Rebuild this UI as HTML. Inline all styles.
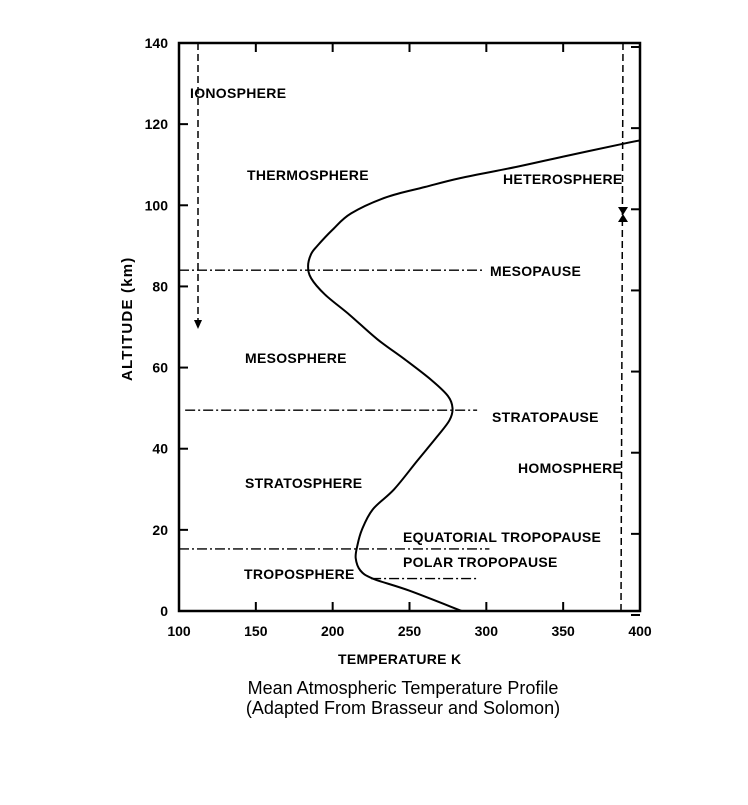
<!DOCTYPE html>
<html><head><meta charset="utf-8"><style>
body{margin:0;background:#fff;width:748px;height:800px;overflow:hidden}
svg text{font-family:"Liberation Sans",sans-serif;fill:#000}
.lbl{font-size:14px;font-weight:bold;letter-spacing:0.3px}
.tick{font-size:14px;font-weight:bold}
</style></head><body>
<svg id="chart" width="748" height="800" viewBox="0 0 748 800" xmlns="http://www.w3.org/2000/svg"></svg>
<script>
const temps=[284,250,226,218,215,216,219,226,240,255,268,276,278,275,264,247,229,211,195,186,184,186,190,200,212,235,260,283,320,350,387,400];
const alts=[0,5,8,10,13,16,20,25,30,37,43,47,50,53,57,62,67,73,78,82,85,88,90,94,98,102,104.5,106.7,109.5,112,115,116];
const xTicks=[100,150,200,250,300,350,400];
const yTicks=[0,20,40,60,80,100,120,140];
const boundaryAlts=[84,49.5,15.3,8];
const boundaryNames=['mesopause-line','stratopause-line','equatorial-tropopause-line','polar-tropopause-line'];
const boundaryFrom=[100,104,100,225];
const boundaryTo=[298,294,302,295];

const L=179,R=640,B=611,T=43;
const x=v=>L+(v-100)*(R-L)/300;
const y=a=>B-(a)*(B-T)/140;
const svg=document.getElementById('chart');
const NS='http://www.w3.org/2000/svg';
function mk(tag,attrs,parent){const e=document.createElementNS(NS,tag);for(const k in attrs)e.setAttribute(k,attrs[k]);(parent||svg).appendChild(e);return e;}

const frame=mk('rect',{x:L,y:T,width:R-L,height:B-T,fill:'none',stroke:'#000','stroke-width':2.5});



xTicks.forEach((v,i)=>{
  const t=mk('line',{x1:x(v),x2:x(v),y1:B,y2:B-9,stroke:'#000','stroke-width':2});
  
  
  const t2=mk('line',{x1:x(v),x2:x(v),y1:T,y2:T+9,stroke:'#000','stroke-width':2});
  
  
  const l=mk('text',{x:x(v),y:B+25,'text-anchor':'middle',class:'tick'});
  l.textContent=v;
  
  
});
yTicks.forEach(v=>{
  const t=mk('line',{x1:L,x2:L+9,y1:y(v),y2:y(v),stroke:'#000','stroke-width':2});
  
  
  const t2=mk('line',{x1:R,x2:R-9,y1:y(v)+4,y2:y(v)+4,stroke:'#000','stroke-width':2});
  
  
  const l=mk('text',{x:L-11,y:y(v)+5,'text-anchor':'end',class:'tick'});
  l.textContent=v;
  
  
});

boundaryAlts.forEach((a,i)=>{
  const ln=mk('line',{x1:x(boundaryFrom[i]),x2:x(boundaryTo[i]),y1:y(a),y2:y(a),stroke:'#000','stroke-width':1.3,'stroke-dasharray':'10 3 2 3'});
  
  
});

const pts=temps.map((t,i)=>[x(t),y(alts[i])]);
let d='M'+pts[0][0]+','+pts[0][1];
for(let i=0;i<pts.length-1;i++){
  const p0=pts[i-1]||pts[i],p1=pts[i],p2=pts[i+1],p3=pts[i+2]||p2;
  d+=` C${p1[0]+(p2[0]-p0[0])/6},${p1[1]+(p2[1]-p0[1])/6} ${p2[0]-(p3[0]-p1[0])/6},${p2[1]-(p3[1]-p1[1])/6} ${p2[0]},${p2[1]}`;
}
const curve=mk('path',{d:d,fill:'none',stroke:'#000','stroke-width':2});



const io=mk('line',{x1:198,x2:198,y1:T,y2:322,stroke:'#000','stroke-width':1.5,'stroke-dasharray':'7 4'});


const ioh=mk('polygon',{points:'194,320 202,320 198,329',fill:'#000'});


const hd=mk('line',{x1:623,x2:621,y1:T,y2:B,stroke:'#000','stroke-width':1.5,'stroke-dasharray':'7 4'});


const a1=mk('polygon',{points:'618,207 628,207 623,215',fill:'#000'});


const a2=mk('polygon',{points:'618,222 628,222 623,214',fill:'#000'});



const labels=[
 ['IONOSPHERE',190,98,'ionosphere-label'],
 ['THERMOSPHERE',247,180,'thermosphere-label'],
 ['HETEROSPHERE',503,184,'heterosphere-label'],
 ['MESOPAUSE',490,276,'mesopause-label'],
 ['MESOSPHERE',245,363,'mesosphere-label'],
 ['STRATOPAUSE',492,422,'stratopause-label'],
 ['HOMOSPHERE',518,473,'homosphere-label'],
 ['STRATOSPHERE',245,488,'stratosphere-label'],
 ['EQUATORIAL TROPOPAUSE',403,542,'equatorial-tropopause-label'],
 ['POLAR TROPOPAUSE',403,567,'polar-tropopause-label'],
 ['TROPOSPHERE',244,579,'troposphere-label'],
 ['TEMPERATURE    K',338,664,'x-axis-title']
];
labels.forEach(l=>{
  const t=mk('text',{x:l[1],y:l[2],class:'lbl','xml:space':'preserve'});
  t.textContent=l[0];
  
  
});
const yt=mk('text',{x:0,y:0,class:'lbl','xml:space':'preserve',style:'font-size:15px;letter-spacing:1.2px',transform:'translate(132,381) rotate(-90)'});
yt.textContent='ALTITUDE  (km)';


const c1=mk('text',{x:403,y:694,'text-anchor':'middle','font-size':'18'});
c1.textContent='Mean Atmospheric Temperature Profile';


const c2=mk('text',{x:403,y:714,'text-anchor':'middle','font-size':'18'});
c2.textContent='(Adapted From Brasseur and Solomon)';


</script>
</body></html>
